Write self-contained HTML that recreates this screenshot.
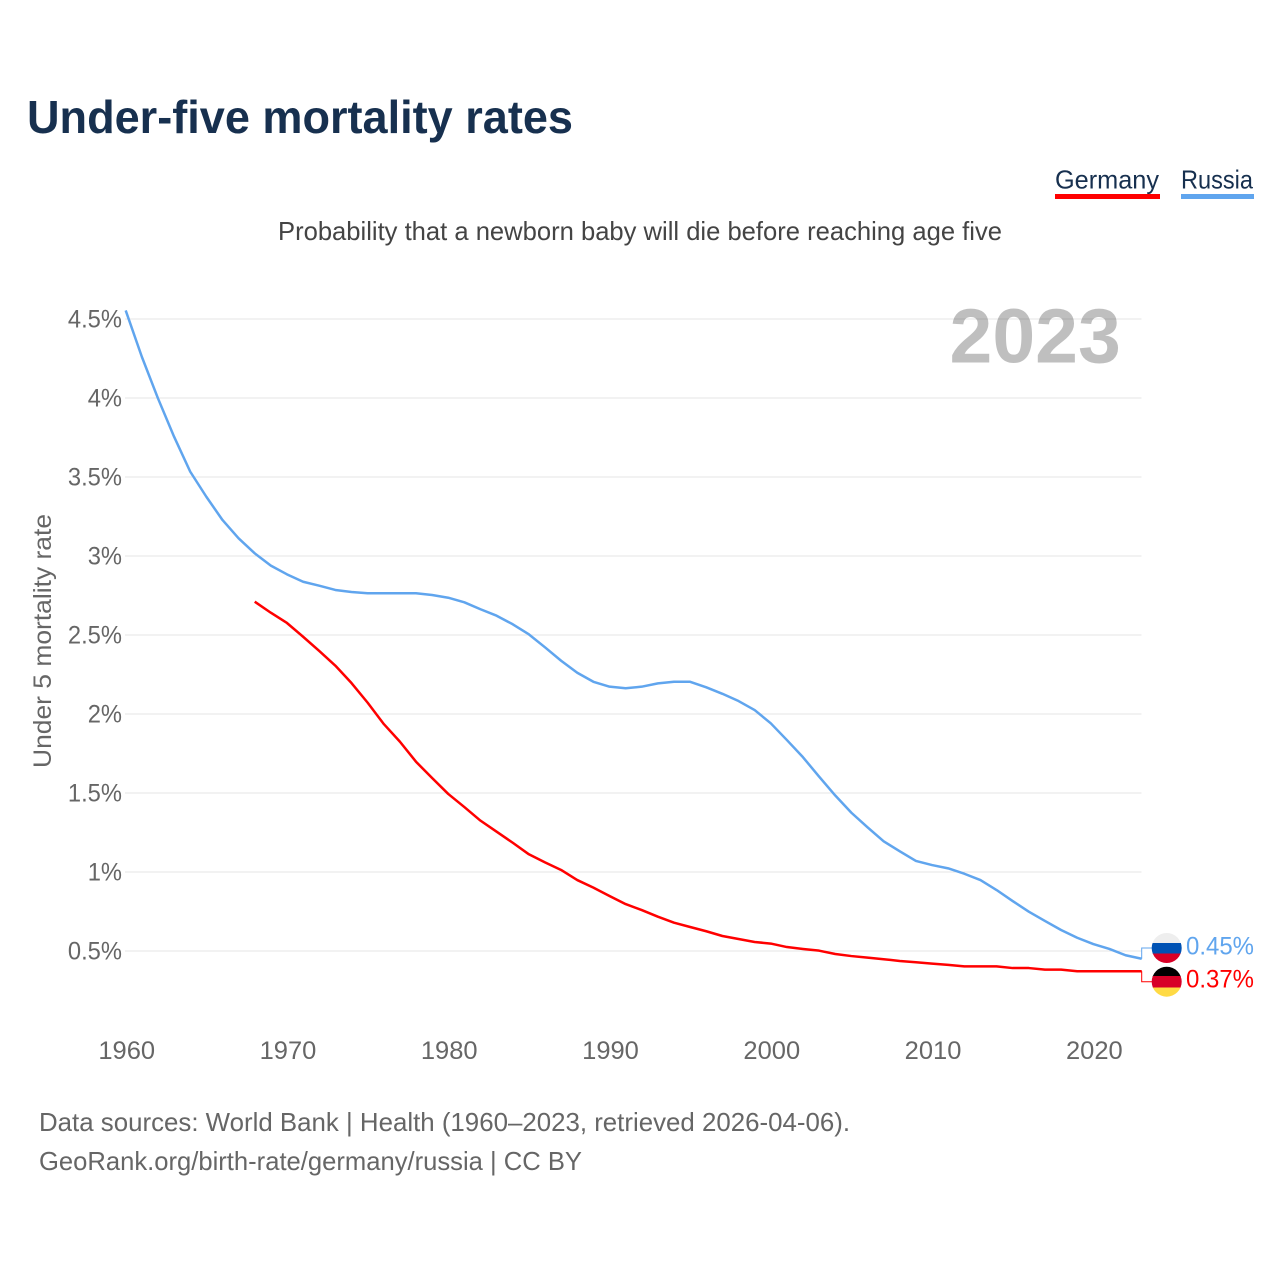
<!DOCTYPE html>
<html lang="en">
<head>
<meta charset="utf-8">
<title>Under-five mortality rates</title>
<style>
html,body{margin:0;padding:0;background:#fff;width:1280px;height:1280px;overflow:hidden}
svg{display:block}
text{font-family:"Liberation Sans",sans-serif}
</style>
</head>
<body>
<svg id="chart" xmlns="http://www.w3.org/2000/svg" width="1280" height="1280" viewBox="0 0 1280 1280">
  <rect x="0" y="0" width="1280" height="1280" fill="#fff"/>
  <text x="27" y="133" font-size="46" font-weight="700" fill="#17304f" textLength="546" lengthAdjust="spacingAndGlyphs">Under-five mortality rates</text>

  <g>
    <text x="1055" y="188.5" font-size="26" fill="#17304f" textLength="104" lengthAdjust="spacingAndGlyphs">Germany</text>
    <rect x="1055" y="194" width="105" height="5" fill="#ff0000"/>
  </g>
  <g>
    <text x="1181" y="188.5" font-size="26" fill="#17304f" textLength="72" lengthAdjust="spacingAndGlyphs">Russia</text>
    <rect x="1181" y="194" width="73" height="5" fill="#60a5ee"/>
  </g>

  <text x="278" y="240" font-size="26" fill="#444" textLength="724" lengthAdjust="spacingAndGlyphs">Probability that a newborn baby will die before reaching age five</text>

  <g id="grid" shape-rendering="crispEdges"></g>
  <text x="949.5" y="362.5" font-size="77" font-weight="700" fill="rgba(0,0,0,0.25)">2023</text>
  <g id="y-axis"></g>
  <g id="x-axis"></g>
  <text transform="translate(51,641) rotate(-90)" text-anchor="middle" font-size="25" fill="#666" textLength="254" lengthAdjust="spacingAndGlyphs">Under 5 mortality rate</text>

  <g id="series"></g>

  <defs>
    <clipPath id="clip-ru"><circle cx="1166.7" cy="948" r="15"/></clipPath>
    <clipPath id="clip-de"><circle cx="1166.7" cy="981.7" r="15"/></clipPath>
  </defs>
  <g clip-path="url(#clip-ru)">
    <rect x="1151" y="933" width="32" height="11" fill="#eeeeee"/>
    <rect x="1151" y="943" width="32" height="11" fill="#0052b4"/>
    <rect x="1151" y="953.5" width="32" height="11" fill="#d80027"/>
  </g>
  <g clip-path="url(#clip-de)">
    <rect x="1151" y="966" width="32" height="11" fill="#000000"/>
    <rect x="1151" y="976" width="32" height="12" fill="#d80027"/>
    <rect x="1151" y="987.5" width="32" height="11" fill="#ffda44"/>
  </g>

  <text x="39" y="1131" font-size="26" fill="#666" textLength="811" lengthAdjust="spacingAndGlyphs">Data sources: World Bank | Health (1960–2023, retrieved 2026-04-06).</text>
  <text x="39" y="1170" font-size="26" fill="#666" textLength="543" lengthAdjust="spacingAndGlyphs">GeoRank.org/birth-rate/germany/russia | CC BY</text>
</svg>
<script>
var russiaStartYear = 1960;
var germanyStartYear = 1968;
var russiaValues = [4.554,4.261,3.998,3.755,3.534,3.375,3.228,3.112,3.017,2.939,2.884,2.837,2.812,2.785,2.772,2.764,2.764,2.764,2.764,2.753,2.736,2.707,2.663,2.622,2.568,2.504,2.422,2.337,2.261,2.204,2.173,2.163,2.173,2.194,2.204,2.204,2.169,2.128,2.082,2.025,1.941,1.835,1.726,1.603,1.484,1.375,1.283,1.194,1.131,1.07,1.044,1.023,0.989,0.949,0.886,0.816,0.749,0.69,0.633,0.584,0.544,0.513,0.473,0.451];
var germanyValues = [2.711,2.641,2.576,2.489,2.399,2.306,2.196,2.072,1.937,1.825,1.698,1.595,1.494,1.411,1.325,1.255,1.185,1.112,1.061,1.013,0.949,0.901,0.848,0.797,0.759,0.717,0.679,0.652,0.625,0.595,0.576,0.557,0.547,0.525,0.513,0.502,0.481,0.468,0.458,0.448,0.437,0.429,0.42,0.412,0.403,0.403,0.403,0.392,0.392,0.382,0.382,0.372,0.372,0.372,0.372,0.372];
var yTickValues = [0.5,1,1.5,2,2.5,3,3.5,4,4.5];
var yTickLabels = ["0.5%","1%","1.5%","2%","2.5%","3%","3.5%","4%","4.5%"];
var xTickYears = [1960,1970,1980,1990,2000,2010,2020];
var xTickLabels = ["1960","1970","1980","1990","2000","2010","2020"];

var NS = "http://www.w3.org/2000/svg";
function xScale(year){ return 125.7 + (year - 1960) * 16.127; }
function yScale(v){ return 951 - (v - 0.5) * 158; }
function make(tag, parent){
  var el = document.createElementNS(NS, tag);
  parent.appendChild(el);
  return el;
}
function squeeze(t, k){
  t.setAttribute("textLength", (t.getComputedTextLength() * k).toFixed(1));
  t.setAttribute("lengthAdjust", "spacingAndGlyphs");
}
var grid = document.getElementById("grid");
var yAxis = document.getElementById("y-axis");
var xAxis = document.getElementById("x-axis");
var seriesGroup = document.getElementById("series");
var svg = document.getElementById("chart");

yTickValues.forEach(function(v, i){
  var line = make("line", grid);
  
  
  line.setAttribute("x1", 125);
  line.setAttribute("x2", 1141.7);
  line.setAttribute("y1", yScale(v));
  line.setAttribute("y2", yScale(v));
  line.setAttribute("stroke", "#e6e6e6");
  line.setAttribute("stroke-width", 1);
  var t = make("text", yAxis);
  
  
  t.setAttribute("x", 122);
  t.setAttribute("y", yScale(v) + 8.5);
  t.setAttribute("text-anchor", "end");
  t.setAttribute("font-size", 25);
  t.setAttribute("fill", "#666");
  t.textContent = yTickLabels[i];
  squeeze(t, 0.95);
});

xTickYears.forEach(function(yr, i){
  var t = make("text", xAxis);
  
  
  t.setAttribute("x", xScale(yr) + 1);
  t.setAttribute("y", 1059);
  t.setAttribute("text-anchor", "middle");
  t.setAttribute("font-size", 25);
  t.setAttribute("fill", "#666");
  t.textContent = xTickLabels[i];
  squeeze(t, 1.02);
});

function linePoints(values, startYear){
  return values.map(function(v, i){
    return xScale(startYear + i).toFixed(2) + "," + yScale(v).toFixed(2);
  }).join(" ");
}

var russiaLine = make("polyline", seriesGroup);


russiaLine.setAttribute("points", linePoints(russiaValues, russiaStartYear));
russiaLine.setAttribute("fill", "none");
russiaLine.setAttribute("stroke", "#60a5ee");
russiaLine.setAttribute("stroke-width", 2.5);
russiaLine.setAttribute("stroke-linejoin", "round");

var germanyLine = make("polyline", seriesGroup);


germanyLine.setAttribute("points", linePoints(germanyValues, germanyStartYear));
germanyLine.setAttribute("fill", "none");
germanyLine.setAttribute("stroke", "#ff0000");
germanyLine.setAttribute("stroke-width", 2.5);
germanyLine.setAttribute("stroke-linejoin", "round");

var endX = xScale(2023);
var russiaEnd = russiaValues[russiaValues.length - 1];
var germanyEnd = germanyValues[germanyValues.length - 1];

var russiaLeader = make("polyline", seriesGroup);


russiaLeader.setAttribute("points", endX + "," + yScale(russiaEnd) + " " + endX + ",948 1152,948");
russiaLeader.setAttribute("fill", "none");
russiaLeader.setAttribute("stroke", "#60a5ee");
russiaLeader.setAttribute("stroke-width", 1);

var germanyLeader = make("polyline", seriesGroup);


germanyLeader.setAttribute("points", endX + "," + yScale(germanyEnd) + " " + endX + ",981.7 1152,981.7");
germanyLeader.setAttribute("fill", "none");
germanyLeader.setAttribute("stroke", "#ff0000");
germanyLeader.setAttribute("stroke-width", 1);

var russiaLabel = make("text", svg);


russiaLabel.setAttribute("x", 1186);
russiaLabel.setAttribute("y", 954.5);
russiaLabel.setAttribute("font-size", 25);
russiaLabel.setAttribute("fill", "#60a5ee");
russiaLabel.setAttribute("textLength", 68);
russiaLabel.setAttribute("lengthAdjust", "spacingAndGlyphs");
russiaLabel.textContent = russiaEnd.toFixed(2) + "%";

var germanyLabel = make("text", svg);


germanyLabel.setAttribute("x", 1186);
germanyLabel.setAttribute("y", 987.5);
germanyLabel.setAttribute("font-size", 25);
germanyLabel.setAttribute("fill", "#ff0000");
germanyLabel.setAttribute("textLength", 68);
germanyLabel.setAttribute("lengthAdjust", "spacingAndGlyphs");
germanyLabel.textContent = germanyEnd.toFixed(2) + "%";
</script>
</body>
</html>
